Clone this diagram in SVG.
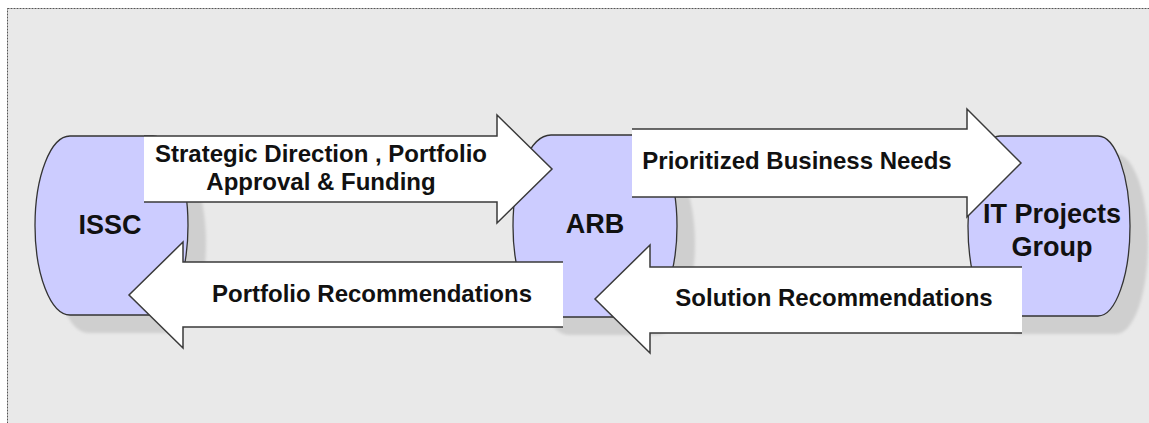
<svg xmlns="http://www.w3.org/2000/svg" width="1149" height="423" viewBox="0 0 1149 423">
<style>
.frame{fill:#e9e9e9;stroke:#555;stroke-width:1;stroke-dasharray:2,1}
.shadow{fill:#cfcfcf;filter:url(#blur)}
.node{fill:#ccccff;stroke:#333;stroke-width:1.3}
.afill{fill:#ffffff;stroke:none}
.aline{fill:none;stroke:#3a3a3a;stroke-width:1.5;stroke-linejoin:miter}
.nlabel{font-family:"Liberation Sans",Arial,sans-serif;font-weight:bold;font-size:27px;fill:#111;text-anchor:middle}
.alabel{font-family:"Liberation Sans",Arial,sans-serif;font-weight:bold;font-size:24px;fill:#111;text-anchor:middle}
</style>
<defs>
<filter id="blur" x="-10%" y="-10%" width="120%" height="120%"><feGaussianBlur stdDeviation="1.5"/></filter>
</defs>
<rect class="frame" x="7.5" y="8.5" width="1200" height="500"/>

<g id="node-issc">
<rect class="shadow" x="53" y="154" width="153" height="179" rx="35" ry="89.5"/>
<rect class="node" x="35" y="136" width="153" height="179" rx="35" ry="89.5"/>
<text class="nlabel" x="110" y="234">ISSC</text>
</g>
<g id="node-arb">
<rect class="shadow" x="531" y="153" width="164" height="182" rx="38" ry="91"/>
<rect class="node" x="513" y="135" width="164" height="182" rx="38" ry="91"/>
<text class="nlabel" x="595" y="233">ARB</text>
</g>
<g id="node-it">
<rect class="shadow" x="986" y="154" width="162" height="180" rx="32" ry="90"/>
<rect class="node" x="968" y="136" width="162" height="180" rx="32" ry="90"/>
<text class="nlabel" x="1052" y="223">IT Projects</text>
<text class="nlabel" x="1052" y="256">Group</text>
</g>

<g id="connectors">
<g id="arrow-strategic">
<polygon class="afill" points="144,136 497,136 497,115 552,169 497,223 497,202 144,202"/>
<polyline class="aline" points="144,136 497,136 497,115 552,169 497,223 497,202 144,202"/>
<text class="alabel" x="321" y="162">Strategic Direction , Portfolio</text>
<text class="alabel" x="321" y="190">Approval &amp; Funding</text>
</g>
<g id="arrow-portfolio">
<polygon class="afill" points="563,262 183,262 183,242 129,295 183,348 183,327 563,327"/>
<polyline class="aline" points="563,262 183,262 183,242 129,295 183,348 183,327 563,327"/>
<text class="alabel" x="372" y="302">Portfolio Recommendations</text>
</g>
<g id="arrow-prioritized">
<polygon class="afill" points="632,129 967,129 967,109 1021,163 967,217 967,197 632,197"/>
<polyline class="aline" points="632,129 967,129 967,109 1021,163 967,217 967,197 632,197"/>
<text class="alabel" x="797" y="169">Prioritized Business Needs</text>
</g>
<g id="arrow-solution">
<polygon class="afill" points="1022,267 650,267 650,245 595,299 650,353 650,333 1022,333"/>
<polyline class="aline" points="1022,267 650,267 650,245 595,299 650,353 650,333 1022,333"/>
<text class="alabel" x="834" y="306">Solution Recommendations</text>
</g>
</g>
</svg>
